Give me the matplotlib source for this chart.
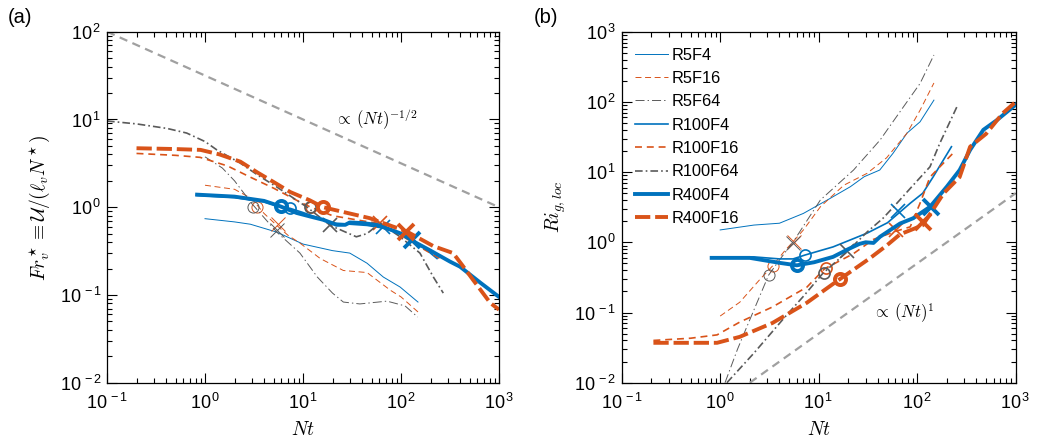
import matplotlib as mpl
import matplotlib.pyplot as plt
import numpy as np
from matplotlib.ticker import FuncFormatter, LogLocator, NullFormatter

# Helvetica-like ticks, Computer Modern for the math labels
mpl.rcParams["font.family"] = "Liberation Sans"
mpl.rcParams["mathtext.fontset"] = "custom"
mpl.rcParams["mathtext.rm"] = "Liberation Sans"
mpl.rcParams["mathtext.it"] = "Liberation Sans:italic"
mpl.rcParams["mathtext.bf"] = "Liberation Sans:bold"
mpl.rcParams["lines.scale_dashes"] = False
mpl.rcParams["axes.linewidth"] = 0.9

BLUE = "#0072BD"
ORANGE = "#D95319"
GREY = "#5a5a5a"
REF_GREY = "#a0a0a0"

runs = ["R5F4", "R5F16", "R5F64", "R100F4", "R100F16", "R100F64", "R400F4", "R400F16"]

# ---- panel (a): vertical Froude number vs Nt ----
nt_a_R5F4 = [1, 2, 2.9, 5.4, 10, 20, 30, 45, 66, 98, 149]
fr_R5F4 = [0.74, 0.68, 0.64, 0.52, 0.38, 0.32, 0.30, 0.23, 0.16, 0.123, 0.083]

nt_a_R5F16 = [1, 2, 3, 4, 5.4, 7, 9.3, 15, 25.8, 45, 78, 100, 149]
fr_R5F16 = [1.78, 1.6, 1.25, 0.85, 0.62, 0.48, 0.39, 0.26, 0.19, 0.18, 0.113, 0.095, 0.064]

nt_a_R5F64 = [1, 1.5, 2, 3, 5.4, 9.3, 14, 20, 25.8, 38, 72, 110, 148]
fr_R5F64 = [3.75, 2.8, 2.0, 1.1, 0.52, 0.30, 0.16, 0.105, 0.083, 0.079, 0.085, 0.075, 0.056]

nt_a_R100F4 = [0.83, 2, 4, 6, 7.4, 10, 20, 30, 45, 65, 100, 135, 180, 233]
fr_R100F4 = [1.36, 1.29, 1.15, 1.0, 0.97, 0.87, 0.66, 0.64, 0.62, 0.58, 0.5, 0.42, 0.33, 0.26]

nt_a_R100F16 = [0.2, 0.5, 0.89, 1.7, 2.9, 5, 9.4, 12, 20, 40, 61, 100, 150, 250]
fr_R100F16 = [4.1, 3.9, 3.7, 2.95, 2.2, 1.65, 1.14, 1.0, 0.8, 0.7, 0.65, 0.48, 0.36, 0.26]

nt_a_R100F64 = [0.1, 0.2, 0.41, 0.65, 1.0, 1.32, 2.27, 3.5, 5.4, 11, 19, 35, 45, 61, 98, 156, 214, 270]
fr_R100F64 = [9.6, 8.9, 7.9, 7.0, 5.6, 4.5, 3.2, 2.3, 1.7, 1.0, 0.62, 0.46, 0.5, 0.66, 0.46, 0.30, 0.16, 0.105]

nt_a_R400F4 = [0.83, 2, 4, 5.9, 8.6, 12, 16, 22, 27, 30, 40, 56, 80, 100, 144, 200, 316, 400, 650, 1000]
fr_R400F4 = [1.39, 1.32, 1.18, 1.02, 0.86, 0.78, 0.72, 0.63, 0.63, 0.67, 0.66, 0.63, 0.55, 0.5, 0.39, 0.32, 0.24, 0.21, 0.137, 0.095]

nt_a_R400F16 = [0.2, 0.5, 0.9, 1.4, 2.3, 3.4, 5, 7.4, 11.7, 16, 26, 48, 61, 114, 214, 340, 420, 540, 815, 1000]
fr_R400F16 = [4.7, 4.6, 4.5, 4.0, 3.3, 2.5, 1.94, 1.49, 1.2, 1.0, 0.88, 0.75, 0.68, 0.53, 0.36, 0.30, 0.22, 0.15, 0.081, 0.068]

# transition markers on panel (a): circles (Fr = 1) and crosses
circ_a = {"R5F16": (3.4, 1.0), "R5F64": (3.1, 1.0), "R100F4": (7.4, 0.98),
          "R100F16": (12.2, 1.0), "R100F64": (11.7, 1.0), "R400F4": (5.9, 1.02),
          "R400F16": (16, 1.0)}
cross_a = {"R5F16": (5.5, 0.64), "R5F64": (5.4, 0.55), "R100F4": (65, 0.59),
           "R100F16": (61, 0.66), "R100F64": (19, 0.62), "R400F4": (130, 0.42),
           "R400F16": (113, 0.52)}

# ---- panel (b): gradient Richardson number vs Nt ----
nt_b_R5F4 = [1, 2.2, 4, 7, 13, 21, 29, 41.7, 57, 79, 107, 148]
ri_R5F4 = [1.5, 1.76, 1.87, 2.58, 4.2, 6.2, 8.6, 10.7, 18.6, 36, 52, 106]

nt_b_R5F16 = [1, 1.58, 2.5, 3.4, 4.5, 5.6, 7, 10.4, 18, 31, 49, 79, 107, 148]
ri_R5F16 = [0.089, 0.14, 0.29, 0.46, 0.75, 1.05, 1.5, 3.2, 6.5, 9.6, 16, 36, 76, 186]

nt_b_R5F64 = [1.12, 1.5, 1.86, 2.5, 3.1, 4, 5.6, 10.4, 22.6, 42, 73, 107, 148]
ri_R5F64 = [0.01, 0.03, 0.062, 0.166, 0.34, 0.56, 1.05, 4, 10.7, 28.6, 86, 183, 466]

nt_b_R100F4 = [0.82, 2.2, 4, 5.5, 7.3, 14, 31, 50, 67, 85, 114, 145, 223]
ri_R100F4 = [0.61, 0.62, 0.58, 0.58, 0.66, 0.86, 1.35, 1.9, 2.7, 3.6, 5, 8.5, 23]

nt_b_R100F16 = [0.21, 0.5, 0.93, 1.58, 3.4, 7.6, 11.5, 22.6, 36, 62, 85, 107, 135, 240]
ri_R100F16 = [0.04, 0.043, 0.048, 0.073, 0.12, 0.23, 0.42, 0.69, 1.1, 1.45, 1.66, 3.6, 8.5, 19.6]

nt_b_R100F64 = [1.17, 2.18, 4.7, 7, 11, 19.4, 31, 45, 60, 91, 135, 170, 258]
ri_R100F64 = [0.01, 0.026, 0.091, 0.17, 0.36, 0.73, 1.4, 2.2, 3.4, 6.5, 11.9, 25.8, 90]

nt_b_R400F4 = [0.82, 2.0, 4.0, 6.0, 9, 14, 20, 26, 30, 36, 42, 67, 91, 135, 200, 270, 345, 470, 645, 1000]
ri_R400F4 = [0.6, 0.6, 0.51, 0.47, 0.52, 0.62, 0.8, 0.95, 1.0, 0.98, 1.2, 1.85, 2.2, 3.2, 6.2, 10.7, 20.7, 40, 55, 91]

nt_b_R400F16 = [0.21, 0.93, 1.58, 3.4, 7.6, 14.8, 33, 49, 67, 114, 186, 270, 345, 500, 740, 1000]
ri_R400F16 = [0.037, 0.037, 0.045, 0.071, 0.138, 0.27, 0.59, 0.9, 1.3, 1.75, 5.0, 8.5, 23, 35, 69, 100]

circ_b = {"R5F16": (3.4, 0.46), "R5F64": (3.1, 0.34), "R100F4": (7.3, 0.66),
          "R100F16": (11.8, 0.43), "R100F64": (11.2, 0.36), "R400F4": (6.0, 0.47),
          "R400F16": (16.3, 0.30)}
cross_b = {"R5F16": (5.6, 1.02), "R5F64": (5.5, 0.98), "R100F4": (64, 2.8),
           "R100F16": (61, 1.48), "R100F64": (19.4, 0.75), "R400F4": (138, 3.15),
           "R400F16": (116, 1.95)}

# power-law guides
ref_a_nt = [0.1, 1000]
ref_a_val = [100, 1]
ref_b_nt = [2.0, 1000]
ref_b_val = [0.01, 5.0]

series_a = {
    "R5F4": (nt_a_R5F4, fr_R5F4), "R5F16": (nt_a_R5F16, fr_R5F16),
    "R5F64": (nt_a_R5F64, fr_R5F64), "R100F4": (nt_a_R100F4, fr_R100F4),
    "R100F16": (nt_a_R100F16, fr_R100F16), "R100F64": (nt_a_R100F64, fr_R100F64),
    "R400F4": (nt_a_R400F4, fr_R400F4), "R400F16": (nt_a_R400F16, fr_R400F16),
}
series_b = {
    "R5F4": (nt_b_R5F4, ri_R5F4), "R5F16": (nt_b_R5F16, ri_R5F16),
    "R5F64": (nt_b_R5F64, ri_R5F64), "R100F4": (nt_b_R100F4, ri_R100F4),
    "R100F16": (nt_b_R100F16, ri_R100F16), "R100F64": (nt_b_R100F64, ri_R100F64),
    "R400F4": (nt_b_R400F4, ri_R400F4), "R400F16": (nt_b_R400F16, ri_R400F16),
}

THIN, MED, THICK = 0.7, 1.2, 2.8
styles = {
    "R5F4": dict(color=BLUE, ls="-", lw=THIN),
    "R5F16": dict(color=ORANGE, ls=(0, (4.3, 2.6)), lw=THIN),
    "R5F64": dict(color=GREY, ls=(0, (6.5, 2.2, 1.0, 2.2)), lw=THIN),
    "R100F4": dict(color=BLUE, ls="-", lw=MED),
    "R100F16": dict(color=ORANGE, ls=(0, (5.0, 3.5)), lw=MED),
    "R100F64": dict(color=GREY, ls=(0, (5.5, 2.2, 1.2, 2.2)), lw=MED),
    "R400F4": dict(color=BLUE, ls="-", lw=THICK),
    "R400F16": dict(color=ORANGE, ls=(0, (11, 3.5)), lw=THICK),
}


def decade_label(value, pos):
    return r"$\mathdefault{10^{\,%d}}$" % round(np.log10(value))


def style_axes(ax, ylim):
    ax.set_xscale("log")
    ax.set_yscale("log")
    ax.set_xlim(0.1, 1000)
    ax.set_ylim(*ylim)
    for axis in (ax.xaxis, ax.yaxis):
        axis.set_major_locator(LogLocator(base=10, numticks=10))
        axis.set_major_formatter(FuncFormatter(decade_label))
        axis.set_minor_locator(LogLocator(base=10, subs=np.arange(2, 10), numticks=12))
        axis.set_minor_formatter(NullFormatter())
    ax.tick_params(which="both", direction="in", top=True, right=True, width=0.8)
    ax.tick_params(which="major", length=7, labelsize=13)
    ax.tick_params(which="minor", length=3.5)
    ax.tick_params(axis="x", which="major", pad=7)
    ax.tick_params(axis="y", which="major", pad=4)


def draw_panel(ax, series, circles, crosses):
    for name in runs:
        nt, val = series[name]
        st = styles[name]
        ax.plot(nt, val, color=st["color"], linestyle=st["ls"], linewidth=st["lw"], label=name)
        if name in circles:
            ax.plot(*circles[name], marker="o", ms=8, mfc="none", mec=st["color"],
                    mew=st["lw"], linestyle="none")
        if name in crosses:
            ax.plot(*crosses[name], marker="x", ms=10 if st["lw"] < 2 else 11,
                    mec=st["color"], mew=st["lw"], linestyle="none")


fig = plt.figure(figsize=(10.37, 4.41), dpi=100)
ax1 = fig.add_axes([0.1032, 0.1322, 0.3780, 0.7959])
ax2 = fig.add_axes([0.5995, 0.1322, 0.3799, 0.7959])

# (a)
ax1.plot(ref_a_nt, ref_a_val, color=REF_GREY, linestyle=(0, (6, 4)), linewidth=1.6)
draw_panel(ax1, series_a, circ_a, cross_a)
style_axes(ax1, (0.01, 100))
ax1.text(21, 10, r"$\propto\,(Nt)^{-1/2}$", math_fontfamily="cm", fontsize=12, va="center")
ax1.set_xlabel(r"$Nt$", math_fontfamily="cm", fontsize=14)
ax1.set_ylabel(r"$Fr_v^\star \equiv \mathcal{U}/(\ell_v N^\star)$", math_fontfamily="cm", fontsize=14)
ax1.xaxis.set_label_coords(0.5, -0.11)
ax1.yaxis.set_label_coords(-0.14, 0.5)

# (b)
ax2.plot(ref_b_nt, ref_b_val, color=REF_GREY, linestyle=(0, (6, 4)), linewidth=1.6)
draw_panel(ax2, series_b, circ_b, cross_b)
style_axes(ax2, (0.01, 1000))
ax2.text(36, 0.098, r"$\propto\,(Nt)^1$", math_fontfamily="cm", fontsize=12, va="center")
ax2.set_xlabel(r"$Nt$", math_fontfamily="cm", fontsize=14)
ax2.set_ylabel(r"$Ri_{g,loc}$", math_fontfamily="cm", fontsize=14)
ax2.xaxis.set_label_coords(0.5, -0.11)
ax2.yaxis.set_label_coords(-0.136, 0.5)

handles = [ln for ln in ax2.get_lines() if ln.get_label() in runs]
ax2.legend(handles=handles, loc="upper left", bbox_to_anchor=(0.035, 0.955),
           frameon=False, fontsize=11.8, handlelength=2.0, handletextpad=0.2,
           labelspacing=0.51, borderpad=0, borderaxespad=0)

fig.text(0.007, 0.982, "(a)", fontsize=14.5, va="top")
fig.text(0.515, 0.982, "(b)", fontsize=14.5, va="top")

fig.savefig("out.png", dpi=100)
